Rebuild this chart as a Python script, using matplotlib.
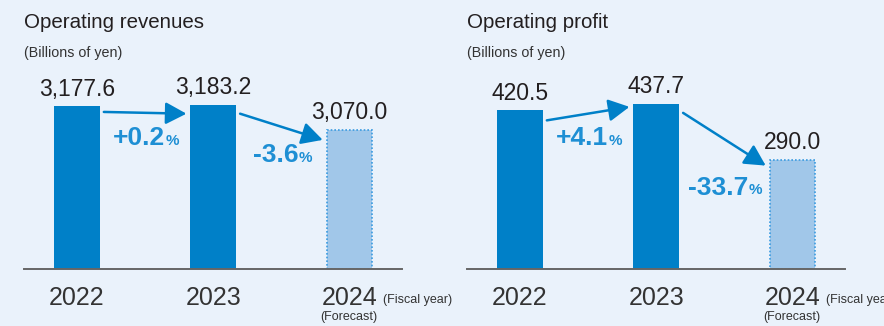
import matplotlib
matplotlib.use("Agg")
import matplotlib.pyplot as plt
from matplotlib.transforms import offset_copy

plt.rcParams['font.family'] = ['Liberation Sans', 'DejaVu Sans']

years = ['2022', '2023', '2024']
revenues = [3177.6, 3183.2, 3070.0]
profit = [420.5, 437.7, 290.0]
is_forecast = [False, False, True]

titles = ['Operating revenues', 'Operating profit']
unit_label = '(Billions of yen)'

BG = '#eaf2fb'
DARK = '#0080c8'
LIGHT = '#a1c7e9'
EDGE = '#3a9be0'
PCT = '#1e8fd4'
TXT = '#231f20'

W, H = 884, 326
fig = plt.figure(figsize=(W / 100, H / 100), dpi=100, facecolor=BG)


def px_axes(x0, y_top, w, h):
    # place an axes using pixel coordinates measured from the top-left
    return fig.add_axes([x0 / W, (H - y_top - h) / H, w / W, h / H])


def panel(x0, title, values, ybottom, ytop, arrow_dy, pct_dy):
    ax = px_axes(x0, 60, 378, 209)
    ax.set_facecolor('none')
    ax.set_xlim(-0.389, 2.385)
    ax.set_ylim(ybottom, ytop)
    xs = range(len(values))
    for x, v, fc in zip(xs, values, is_forecast):
        if fc:
            ax.bar(x, v - ybottom, bottom=ybottom, width=0.335, color=LIGHT,
                   edgecolor=EDGE, linestyle=(0, (1, 1.2)), linewidth=1.2, zorder=2)
        else:
            ax.bar(x, v - ybottom, bottom=ybottom, width=0.335, color=DARK,
                   linewidth=0, zorder=2)
        ax.annotate(f'{v:,.1f}', (x, v), xytext=(0, 7.5), textcoords='offset points',
                    ha='center', va='baseline', fontsize=16.5, color=TXT)

    for s in ['left', 'right', 'top']:
        ax.spines[s].set_visible(False)
    ax.spines['bottom'].set_color('#666666')
    ax.spines['bottom'].set_linewidth(1.4)
    ax.spines['bottom'].set_zorder(3)
    ax.set_yticks([])
    ax.set_xticks(list(xs))
    ax.set_xticklabels(years, fontsize=18, color='#333333')
    ax.tick_params(axis='x', length=0, pad=12)

    # growth arrows and percentage labels between neighbouring bars
    half = 0.335 / 2
    for i in range(len(values) - 1):
        (d0, d1), off = arrow_dy[i], pct_dy[i]
        start_tr = offset_copy(ax.transData, fig=fig, x=4, y=-d0, units='dots')
        end_tr = offset_copy(ax.transData, fig=fig, x=-4, y=-d1, units='dots')
        ax.annotate('', xy=(i + 1 - half, values[i + 1]), xycoords=end_tr,
                    xytext=(i + half, values[i]), textcoords=start_tr,
                    arrowprops=dict(arrowstyle='-|>,head_length=0.85,head_width=0.45',
                                    mutation_scale=15, color=DARK, lw=1.8,
                                    shrinkA=0, shrinkB=0),
                    zorder=4)
        pct = (values[i + 1] / values[i] - 1) * 100
        mid_x = i + 0.5
        mid_y = (values[i] + values[i + 1]) / 2
        num = ax.annotate(f'{pct:+.1f}', (mid_x, mid_y), xytext=(-6, -off),
                          textcoords='offset pixels', ha='center', va='center',
                          fontsize=19, fontweight='bold', color=PCT)
        ax.annotate('%', xy=(1, 0), xycoords=num, xytext=(0, 1.8),
                    textcoords='offset points', ha='left', va='bottom',
                    fontsize=11, fontweight='bold', color=PCT)

    fig.text(x0 / W, 1 - 22 / H, title, fontsize=14.8, color=TXT, va='center')
    fig.text(x0 / W, 1 - 53 / H, unit_label, fontsize=10.3, color='#333333',
             va='center')
    # fiscal year / forecast notes next to the last tick
    fig.text((x0 + 359) / W, 1 - 300 / H, '(Fiscal year)', fontsize=9,
             color='#333333', va='center')
    fig.text((x0 + 296) / W, 1 - 317 / H, '(Forecast)', fontsize=9,
             color='#333333', va='center')
    return ax


panel(24, titles[0], revenues, 2445, 3384,
      arrow_dy=[(6, 9), (9, 10)], pct_dy=[33, 38])
panel(467, titles[1], profit, 0, 554,
      arrow_dy=[(10, 3), (9, 6)], pct_dy=[31, 56])

fig.savefig('out.png', dpi=100, facecolor=BG)
